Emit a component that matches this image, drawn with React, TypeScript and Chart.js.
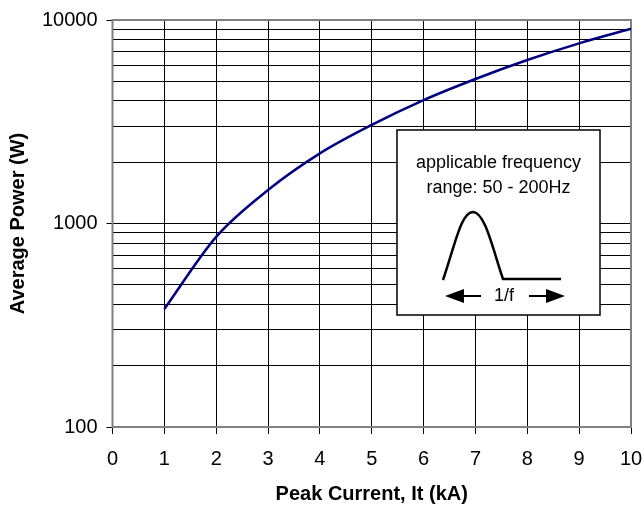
import React, { useEffect, useRef } from "react";
import { Chart, registerables } from "chart.js";

Chart.register(...registerables);

// ---- data ----
const currentKA = [1, 2, 3, 4, 5, 6, 7, 8, 9, 10];
const averagePowerW = [380, 860, 1460, 2210, 3050, 4040, 5130, 6360, 7680, 9050];

const xTickValues = [0, 1, 2, 3, 4, 5, 6, 7, 8, 9, 10];
const yGridValues = [
  100, 200, 300, 400, 500, 600, 700, 800, 900,
  1000, 2000, 3000, 4000, 5000, 6000, 7000, 8000, 9000,
  10000,
];
const yLabelValues = [100, 1000, 10000];

const insetLines = ["applicable frequency", "range: 50 - 200Hz"];
const insetPeriodLabel = "1/f";

const FONT = "'Liberation Sans', Arial, Helvetica, sans-serif";

const framePlugin = {
  id: "frame",
  beforeDatasetsDraw(chart: any) {
    const { ctx, chartArea: a } = chart;
    ctx.save();
    ctx.strokeStyle = "#808080";
    ctx.lineWidth = 2;
    ctx.strokeRect(a.left, a.top, a.right - a.left, a.bottom - a.top);
    ctx.restore();
  },
};

function arrow(ctx: CanvasRenderingContext2D, x0: number, x1: number, y: number) {
  const dir = x1 > x0 ? 1 : -1;
  const headLen = 19;
  const headHalf = 7;
  const base = x1 - dir * headLen;
  ctx.beginPath();
  ctx.moveTo(x0, y);
  ctx.lineTo(base, y);
  ctx.stroke();
  ctx.beginPath();
  ctx.moveTo(x1, y);
  ctx.lineTo(base, y - headHalf);
  ctx.lineTo(base, y + headHalf);
  ctx.closePath();
  ctx.fill();
}

const insetPlugin = {
  id: "inset",
  afterDraw(chart: any) {
    const { ctx, chartArea: a } = chart;
    const L = a.left + 284.5;
    const T = a.top + 110;
    const W = 203;
    const H = 185;
    ctx.save();
    ctx.fillStyle = "#ffffff";
    ctx.fillRect(L, T, W, H);
    ctx.strokeStyle = "#000";
    ctx.lineWidth = 1.5;
    ctx.strokeRect(L, T, W, H);

    ctx.fillStyle = "#000";
    ctx.font = `18px ${FONT}`;
    ctx.textAlign = "center";
    ctx.textBaseline = "middle";
    const cx = L + W / 2;
    ctx.fillText(insetLines[0], cx, T + 33);
    ctx.fillText(insetLines[1], cx, T + 58);

    // pulse
    ctx.lineWidth = 2.5;
    ctx.lineJoin = "round";
    ctx.beginPath();
    const px = L + 46;
    const py = T + 150;
    ctx.moveTo(px, py);
    ctx.bezierCurveTo(px + 12, py - 35, px + 18, py - 68, px + 30, py - 68);
    ctx.bezierCurveTo(px + 42, py - 68, px + 50, py - 30, px + 60, py - 1);
    ctx.lineTo(px + 118, py - 1);
    ctx.stroke();

    // arrows
    ctx.lineWidth = 2;
    const ay = T + 166;
    arrow(ctx, L + 84, L + 48, ay);
    arrow(ctx, L + 132, L + 168, ay);
    ctx.font = `18px ${FONT}`;
    ctx.fillText(insetPeriodLabel, L + 107, ay);
    ctx.restore();
  },
};

export default function App() {
  const ref = useRef<HTMLCanvasElement | null>(null);

  useEffect(() => {
    if (!ref.current) return;
    const chart = new Chart(ref.current, {
      type: "line",
      data: {
        datasets: [
          {
            data: currentKA.map((x, i) => ({ x, y: averagePowerW[i] })),
            borderColor: "#000080",
            borderWidth: 2.5,
            pointRadius: 0,
            fill: false,
            cubicInterpolationMode: "monotone",
          },
        ],
      },
      options: {
        animation: false,
        responsive: false,
        maintainAspectRatio: false,
        layout: { padding: { top: 20, right: 13, bottom: 0, left: 0 } },
        plugins: {
          legend: { display: false },
          tooltip: { enabled: false },
        },
        scales: {
          x: {
            type: "linear",
            min: 0,
            max: 10,
            afterBuildTicks: (scale: any) => {
              scale.ticks = xTickValues.map((v) => ({ value: v }));
            },
            afterFit: (scale: any) => {
              scale.height = 79;
              scale.paddingLeft = 0;
              scale.paddingRight = 0;
            },
            ticks: {
              color: "#000",
              font: { family: FONT, size: 20 },
              padding: 13,
              maxRotation: 0,
              autoSkip: false,
              callback: (v: any) => String(v),
            },
            grid: {
              color: "#000",
              lineWidth: 1,
              tickLength: 7,
              tickColor: "#000",
            },
            border: { display: false },
            title: {
              display: true,
              text: "Peak Current, It (kA)",
              color: "#000",
              font: { family: FONT, size: 20, weight: "bold" },
              padding: { top: 0, bottom: 0 },
            },
          },
          y: {
            type: "logarithmic",
            min: 100,
            max: 10000,
            afterBuildTicks: (scale: any) => {
              scale.ticks = yGridValues.map((v) => ({
                value: v,
                major: yLabelValues.includes(v),
              }));
            },
            afterFit: (scale: any) => {
              scale.width = 112.5;
              scale.paddingTop = 0;
              scale.paddingBottom = 0;
            },
            ticks: {
              color: "#000",
              font: { family: FONT, size: 20 },
              padding: 9,
              autoSkip: false,
              callback: (v: any) => (yLabelValues.includes(Number(v)) ? String(v) : ""),
            },
            grid: {
              color: "#000",
              lineWidth: 1,
              tickLength: 6,
              tickColor: (c: any) =>
                c.tick && yLabelValues.includes(c.tick.value) ? "#000" : "rgba(0,0,0,0)",
            },
            border: { display: false },
            title: {
              display: true,
              text: "Average Power (W)",
              color: "#000",
              font: { family: FONT, size: 20, weight: "bold" },
              padding: { top: 6, bottom: 0 },
            },
          },
        },
      },
      plugins: [framePlugin, insetPlugin],
    } as any);
    return () => chart.destroy();
  }, []);

  return (
    <div style={{ position: "fixed", left: 0, top: 0, width: 644, height: 506, background: "#fff" }}>
      <canvas ref={ref} width={644} height={506} style={{ display: "block", width: 644, height: 506 }} />
    </div>
  );
}
